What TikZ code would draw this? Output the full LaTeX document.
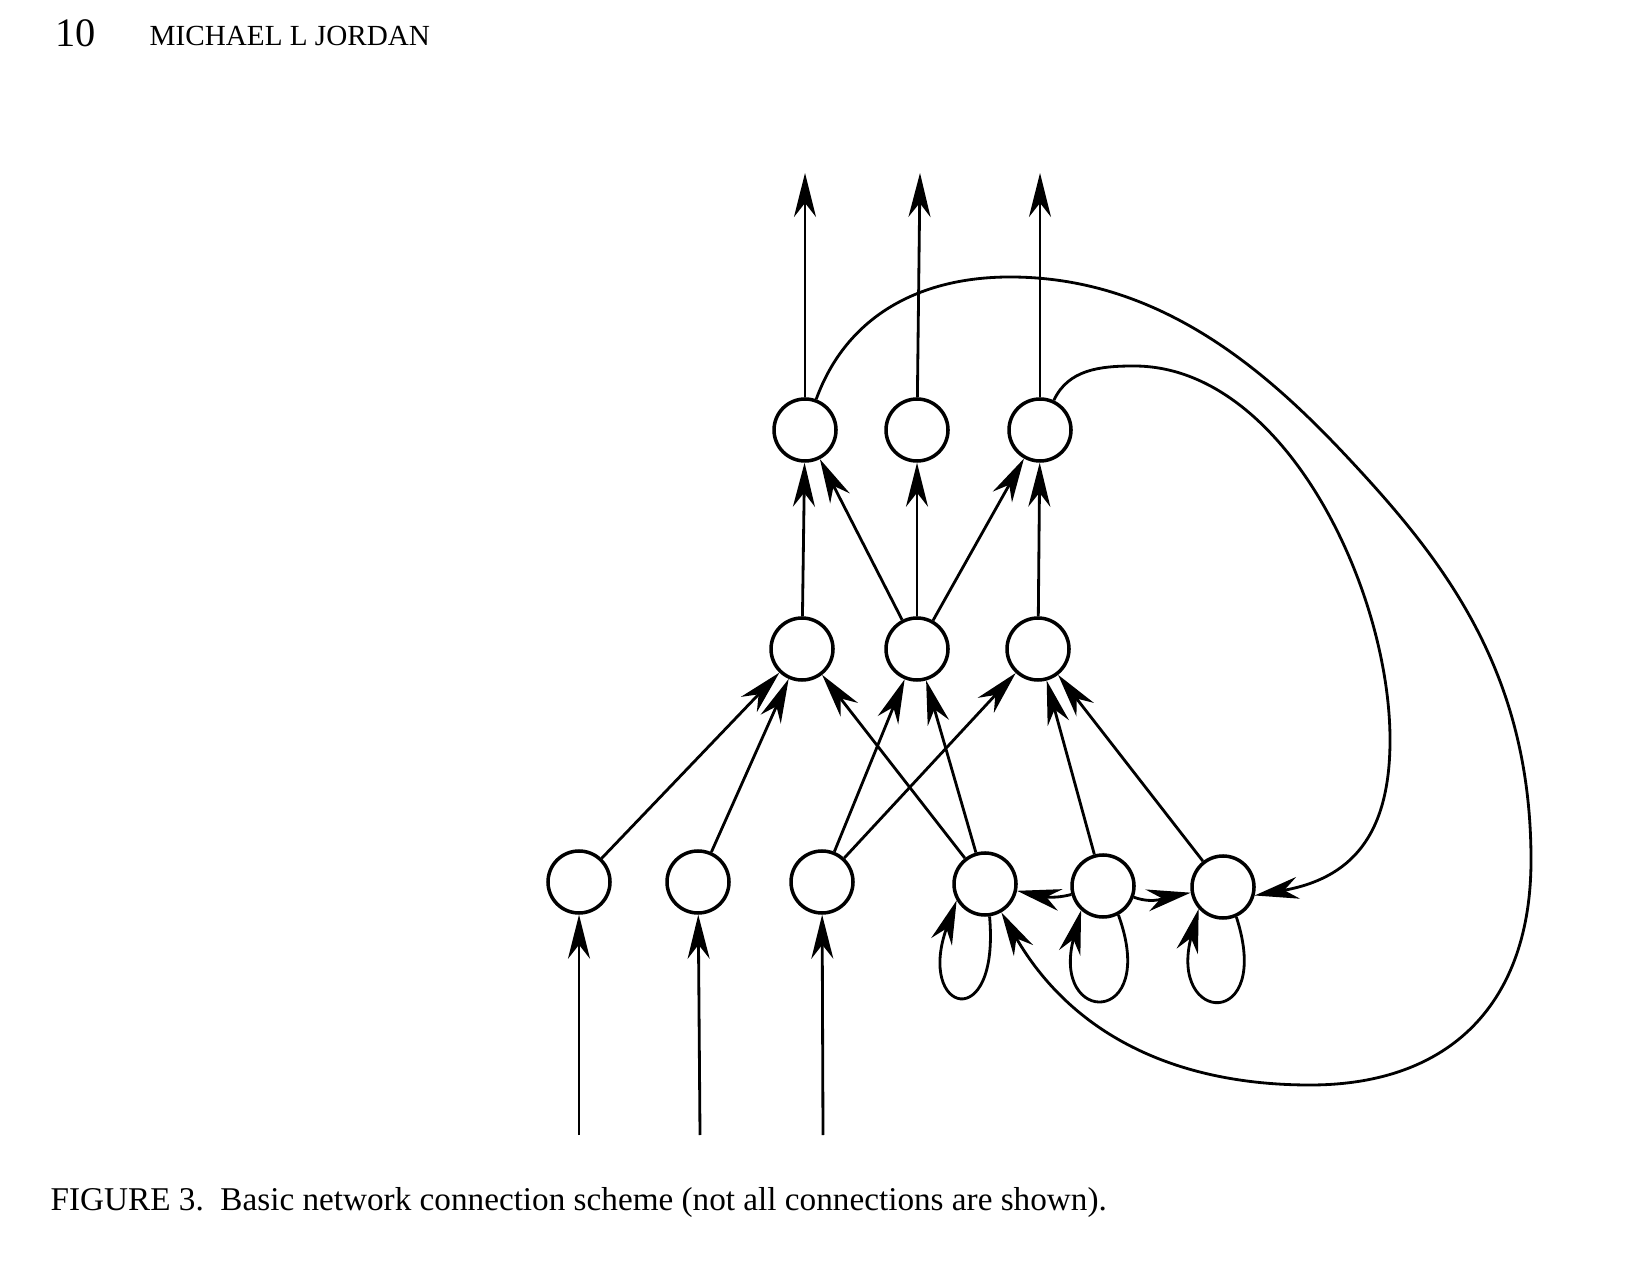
\documentclass[tikz,border=0pt]{standalone}
\usepackage{fontspec}
\setmainfont{Liberation Serif}
\usetikzlibrary{arrows.meta}
\begin{document}
\begin{tikzpicture}[
unit/.style={circle, draw=black, line width=1pt, minimum size=6.2mm, inner sep=0pt},
link/.style={-{Stealth[length=4.4mm, width=2.2mm, inset=1.4mm]}, line width=0.8pt},
loopback/.style={link, distance=12mm},
]
\useasboundingbox (0,0) rectangle (16.46,-12.80);
% running head and caption
\node[anchor=base west, inner sep=0pt, font=\fontsize{11.5}{13}\selectfont] (pagenum) at (0.55,-0.47) {10};
\node[anchor=base west, inner sep=0pt, font=\fontsize{8.3}{10}\selectfont] (author) at (1.49,-0.46) {MICHAEL L JORDAN};
\node[anchor=base west, inner sep=0pt, font=\fontsize{9.45}{11}\selectfont] (caption) at (0.50,-12.10) {FIGURE 3.\ \ Basic network connection scheme (not all connections are shown).};

% output units
\node[unit] (O1) at (8.05,-4.30) {};
\node[unit] (O2) at (9.17,-4.30) {};
\node[unit] (O3) at (10.40,-4.30) {};
% hidden units
\node[unit] (H1) at (8.02,-6.49) {};
\node[unit] (H2) at (9.17,-6.49) {};
\node[unit] (H3) at (10.38,-6.49) {};
% plan units and state units
\node[unit] (I1) at (5.79,-8.82) {};
\node[unit] (I2) at (6.98,-8.82) {};
\node[unit] (I3) at (8.22,-8.82) {};
\node[unit] (S1) at (9.85,-8.84) {};
\node[unit] (S2) at (11.03,-8.86) {};
\node[unit] (S3) at (12.23,-8.87) {};

\coordinate (out1) at (8.05,-1.73);
\coordinate (out2) at (9.20,-1.73);
\coordinate (out3) at (10.40,-1.73);
\coordinate (in1) at (5.79,-11.35);
\coordinate (in2) at (7.00,-11.35);
\coordinate (in3) at (8.23,-11.35);

\draw[link] (O1) -- (out1);
\draw[link] (O2) -- (out2);
\draw[link] (O3) -- (out3);
\draw[link] (in1) -- (I1);
\draw[link] (in2) -- (I2);
\draw[link] (in3) -- (I3);

\draw[link] (H1) -- (O1);
\draw[link] (H2) -- (O1);
\draw[link] (H2) -- (O2);
\draw[link] (H2) -- (O3);
\draw[link] (H3) -- (O3);

\draw[link] (I1) -- (H1);
\draw[link] (I2) -- (H1);
\draw[link] (S1) -- (H1);
\draw[link] (I3) -- (H2);
\draw[link] (S1) -- (H2);
\draw[link] (I3) -- (H3);
\draw[link] (S2) -- (H3);
\draw[link] (S3) -- (H3);

\draw[link] (S2) to[out=195, in=-12] (S1);
\draw[link] (S2) to[out=-20, in=190] (S3);
\draw[loopback] (S1.-82) to[out=-85, in=-110] (S1.-150);
\draw[loopback] (S2.-62) to[out=-70, in=-105] (S2.-132);
\draw[loopback] (S3.-66) to[out=-72, in=-105] (S3.-138);

% feedback from the outputs
\coordinate (arcTop) at (10.10,-2.77);
\coordinate (arcSlope) at (13.50,-4.60);
\coordinate (arcRight) at (15.31,-8.60);
\coordinate (arcBottom) at (13.10,-10.85);
\draw[link] (O1) to[out=70, in=180] (arcTop) to[out=0, in=133, in looseness=0.8] (arcSlope)
  to[out=-47, in=90, out looseness=0.8, in looseness=1.1] (arcRight)
  to[out=-90, in=0, looseness=1.15] (arcBottom)
  to[out=180, in=-60] (S1);
\coordinate (hookTop) at (11.34,-3.66);
\coordinate (hookRight) at (13.90,-7.40);
\draw[link] (O3) to[out=65, in=180] (hookTop) to[out=0, in=90, looseness=0.85] (hookRight)
  to[out=-90, in=10, looseness=1.2] (S3.-15);
\end{tikzpicture}
\end{document}
